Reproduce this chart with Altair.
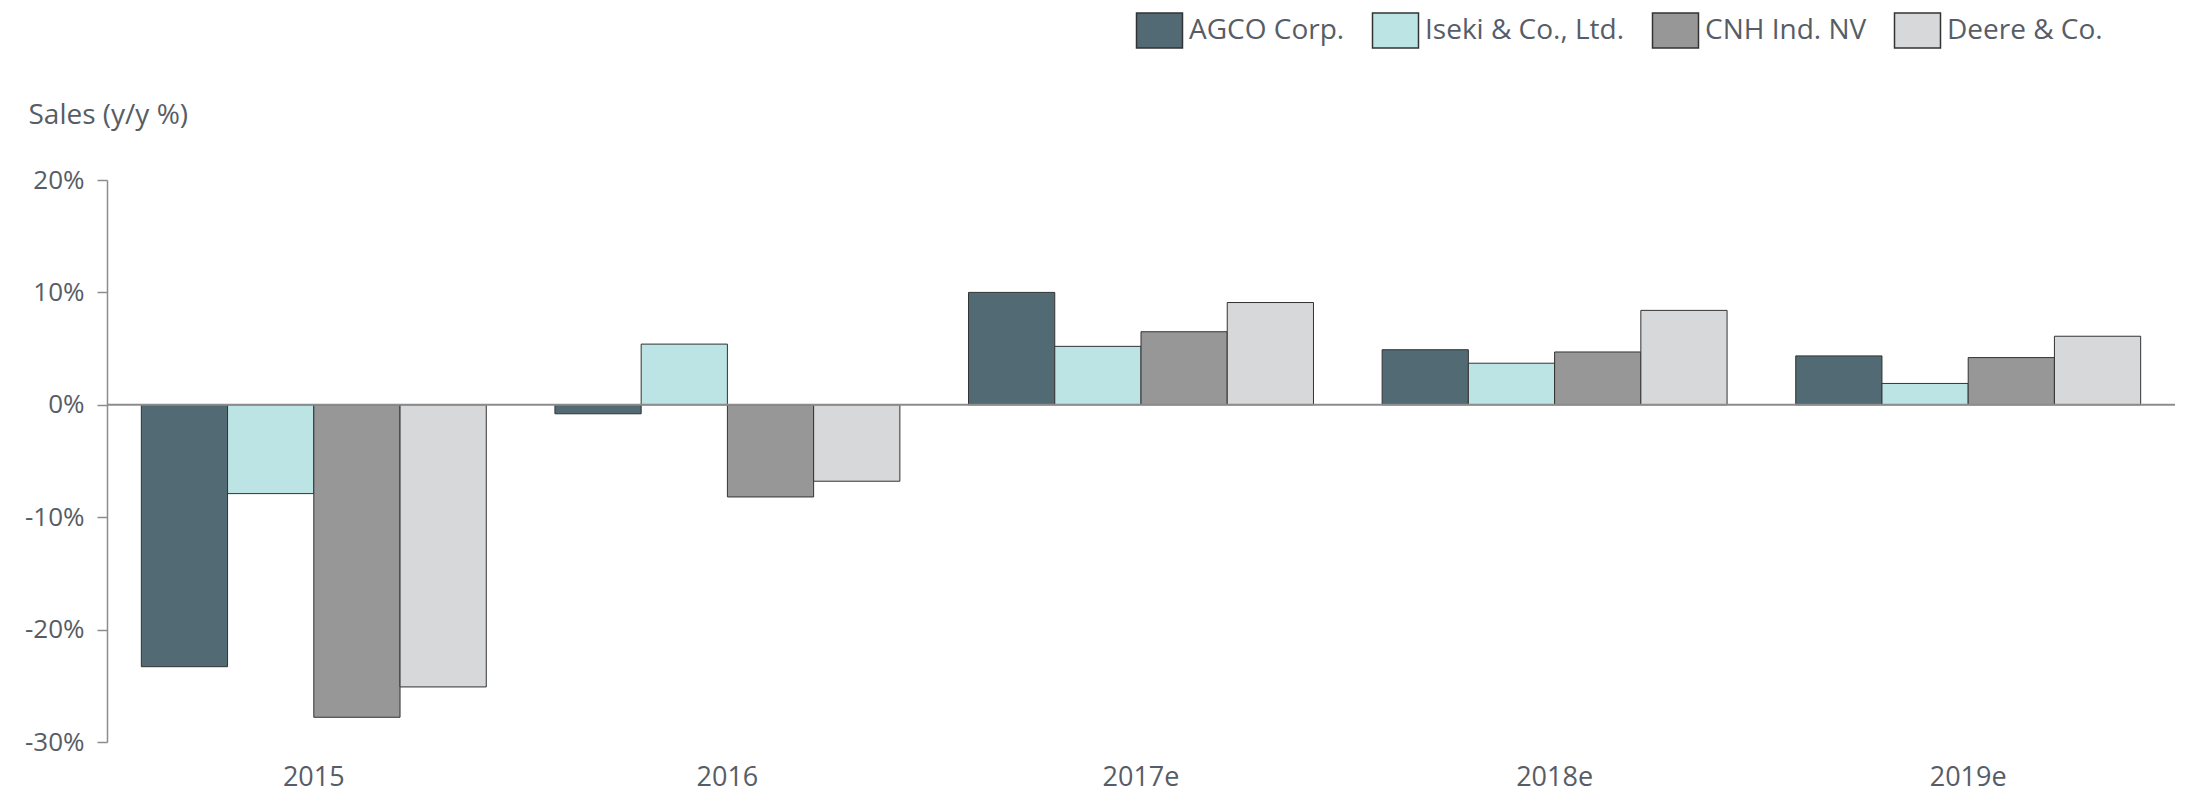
import altair as alt
import pandas as pd

years = ["2015", "2016", "2017e", "2018e", "2019e"]
companies = ["AGCO Corp.", "Iseki & Co., Ltd.", "CNH Ind. NV", "Deere & Co."]
agco = [-23.3, -0.8, 10.0, 4.9, 4.35]
iseki = [-7.9, 5.4, 5.2, 3.7, 1.9]
cnh = [-27.8, -8.2, 6.5, 4.7, 4.2]
deere = [-25.1, -6.8, 9.1, 8.4, 6.1]
colors = ["#526a73", "#bce4e4", "#979797", "#d7d8da"]
y_ticks = [-0.3, -0.2, -0.1, 0, 0.1, 0.2]

rows = []
for comp, vals in zip(companies, [agco, iseki, cnh, deere]):
    for y, v in zip(years, vals):
        rows.append({"year": y, "company": comp, "value": v / 100.0})
df = pd.DataFrame(rows)

FONT = "Open Sans"
TXT = "#575d66"
RECT = "M-1.314,-1H1.314V1H-1.314Z"

bars = alt.Chart(df).mark_bar(stroke="#333333", strokeWidth=1).encode(
    x=alt.X("year:N", sort=years,
            scale=alt.Scale(paddingInner=0.166, paddingOuter=0.083),
            axis=alt.Axis(title=None, domain=False, ticks=False, tickSize=0,
                          labelAngle=0, labelPadding=43, labelBaseline="alphabetic",
                          labelFontSize=27, labelColor=TXT, labelFont=FONT)),
    xOffset=alt.XOffset("company:N", sort=companies,
                        scale=alt.Scale(paddingInner=0, paddingOuter=0)),
    y=alt.Y("value:Q",
            scale=alt.Scale(domain=[-0.3, 0.2], nice=False, zero=False),
            axis=alt.Axis(title="Sales (y/y %)", values=y_ticks,
                          labelExpr="(datum.value < -0.0001 ? '-' : '') + format(abs(datum.value) * 100, '.0f') + '%'",
                          grid=False, domainColor="#8c8c8c", tickColor="#8c8c8c",
                          tickSize=10, domainWidth=1.5, tickWidth=1.5,
                          labelPadding=13, labelFontSize=26, labelColor=TXT, labelFont=FONT,
                          titleAngle=0, titleX=-79, titleY=-57, titleAlign="left",
                          titleBaseline="alphabetic",
                          titleFontSize=28, titleFontWeight="normal", titleColor=TXT,
                          titleFont=FONT)),
    color=alt.Color("company:N", sort=companies,
                    scale=alt.Scale(domain=companies, range=colors),
                    legend=alt.Legend(title=None, orient="none", direction="horizontal",
                                      legendX=1034, legendY=-168,
                                      symbolType=RECT, symbolSize=1225,
                                      symbolStrokeColor="#333333", symbolStrokeWidth=1.5,
                                      symbolOpacity=1,
                                      labelFontSize=28, labelColor=TXT, labelFont=FONT,
                                      labelLimit=0, columnPadding=24, labelOffset=11)),
)

zero = alt.Chart(pd.DataFrame({"z": [0]})).mark_rule(color="#8c8c8c", strokeWidth=2).encode(
    y="z:Q"
)

chart = alt.layer(bars, zero).properties(
    width=2068, height=562,
    padding={"left": 99, "top": 172, "right": 26, "bottom": 52},
    autosize=alt.AutoSizeParams(type="none"),
    background="white",
).configure_view(stroke=None)

chart.save("out.html", embed_options={"renderer": "svg", "actions": False})
